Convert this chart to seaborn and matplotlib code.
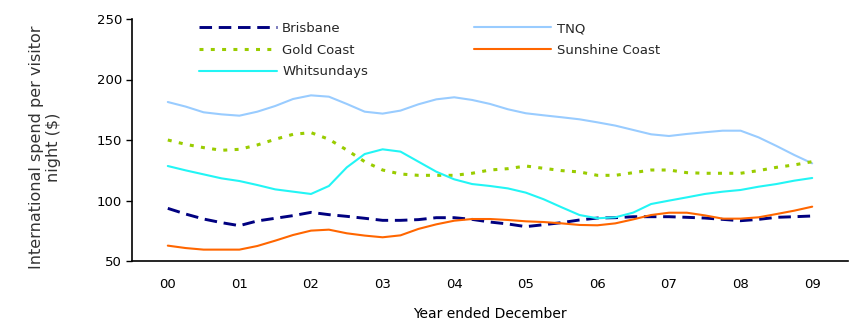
import matplotlib
matplotlib.use("Agg")
import matplotlib.pyplot as plt
import seaborn as sns
import numpy as np
import pandas as pd

years = ["00", "01", "02", "03", "04", "05", "06", "07", "08", "09"]
# quarterly observations (year ended each quarter), Dec 2000 .. Dec 2009
quarter = [i / 4 for i in range(37)]

brisbane = [93.5, 88.8, 84.7, 81.7, 79.2, 83.1, 85.3, 87.5, 90.2, 88.3,
            86.9, 85.3, 83.6, 83.6, 84.2, 85.8, 85.8, 84.4, 82.2, 80.6,
            78.4, 80.0, 81.7, 83.9, 85.5, 85.8, 86.6, 86.6, 86.6, 86.1,
            85.5, 84.4, 83.3, 84.4, 86.1, 86.6, 87.2]
tnq = [181.4, 177.6, 172.9, 171.2, 170.1, 173.4, 178.1, 183.9, 186.9, 185.8,
       179.8, 173.4, 171.8, 174.3, 179.5, 183.6, 185.3, 183.1, 179.8, 175.4,
       172.1, 170.4, 168.8, 167.1, 164.6, 161.9, 158.3, 154.7, 153.3, 155.0,
       156.4, 157.7, 157.7, 152.2, 145.1, 137.6, 130.7]
gold_coast = [150.0, 146.4, 143.7, 141.5, 142.3, 145.9, 150.6, 154.7, 156.1, 150.6,
              141.7, 132.1, 125.2, 121.9, 120.8, 120.8, 120.8, 122.5, 125.2, 126.3,
              128.5, 126.6, 124.7, 123.6, 120.8, 120.8, 123.0, 125.2, 125.2, 123.0,
              122.5, 122.5, 122.5, 124.7, 127.4, 129.4, 132.1]
sunshine_coast = [62.7, 60.7, 59.4, 59.4, 59.4, 62.4, 66.8, 71.5, 75.1, 75.9,
                  72.9, 71.0, 69.6, 71.2, 76.5, 80.3, 83.3, 84.7, 84.7, 83.9,
                  82.8, 82.2, 81.1, 79.8, 79.5, 81.1, 84.4, 88.0, 89.9, 89.9,
                  87.7, 85.0, 85.0, 86.1, 88.8, 91.6, 94.9]
whitsundays = [128.5, 124.9, 121.6, 118.3, 116.1, 112.8, 109.2, 107.3, 105.4, 112.0,
               127.4, 138.4, 142.3, 140.4, 132.1, 123.8, 117.5, 113.6, 112.0, 110.0,
               106.5, 101.0, 94.4, 88.0, 85.3, 86.1, 90.0, 97.1, 99.9, 102.6,
               105.4, 107.3, 108.7, 111.4, 113.6, 116.4, 118.6]

sns.set_theme(style="white")
plt.rcParams["font.family"] = ["DejaVu Sans"]

fig = plt.figure(figsize=(8.52, 3.22), dpi=100)
ax = fig.add_axes([132 / 852, 1 - 261 / 322, (848 - 132) / 852, (261 - 19) / 322])

series = [
    ("Brisbane", brisbane, "#000080", dict(linestyle=(0, (4.3, 2.3)), linewidth=2.1)),
    ("TNQ", tnq, "#99CCFF", dict(linestyle="-", linewidth=1.5)),
    ("Gold Coast", gold_coast, "#99CC00", dict(linestyle=(0, (1.3, 2.4)), linewidth=2.2)),
    ("Sunshine Coast", sunshine_coast, "#FF6600", dict(linestyle="-", linewidth=1.5)),
    ("Whitsundays", whitsundays, "#22F5F5", dict(linestyle="-", linewidth=1.5)),
]
for name, vals, col, kw in series:
    df = pd.DataFrame({"x": quarter, "y": vals})
    sns.lineplot(data=df, x="x", y="y", ax=ax, color=col, label=name, **kw)

ax.set_xlim(-0.5, 9.5)
ax.set_ylim(50, 250)
ax.set_yticks([50, 100, 150, 200, 250])
ax.set_xticks(range(len(years)))
ax.set_xticklabels(years)
ax.set_xticks(np.arange(-0.5, 9.6, 1.0), minor=True)
ax.tick_params(axis="x", which="major", length=0, pad=12, labelsize=9.5, colors="#000000")
ax.tick_params(axis="x", which="minor", length=4, width=1, direction="out", color="#000000")
ax.tick_params(axis="y", which="major", length=4, width=1, direction="out", left=True,
               labelsize=9.5, colors="#000000", pad=3)

for s in ["top", "right"]:
    ax.spines[s].set_visible(False)
for s in ["left", "bottom"]:
    ax.spines[s].set_color("#000000")
    ax.spines[s].set_linewidth(1.2)

ax.set_xlabel("Year ended December", fontsize=10, color="#000000")
ax.xaxis.set_label_coords(0.5, -(307 - 261) / 242)
ax.set_ylabel("International spend per visitor\nnight ($)", fontsize=11.5,
              color="#333333", linespacing=1.2)
ax.yaxis.set_label_coords(-(132 - 61) / 716, 0.47)
ax.grid(False)

handles, labels = ax.get_legend_handles_labels()
order = [0, 2, 4, 1, 3]
leg = fig.legend([handles[i] for i in order], [labels[i] for i in order],
                 ncol=2, loc="upper left", bbox_to_anchor=(199 / 852, 1 - 22 / 322),
                 frameon=False, fontsize=9.5, handlelength=5.9, handletextpad=0.4,
                 columnspacing=8.0, labelspacing=0.65, borderpad=0, borderaxespad=0)
ax.get_legend().remove()

fig.savefig("out.png", dpi=100)
